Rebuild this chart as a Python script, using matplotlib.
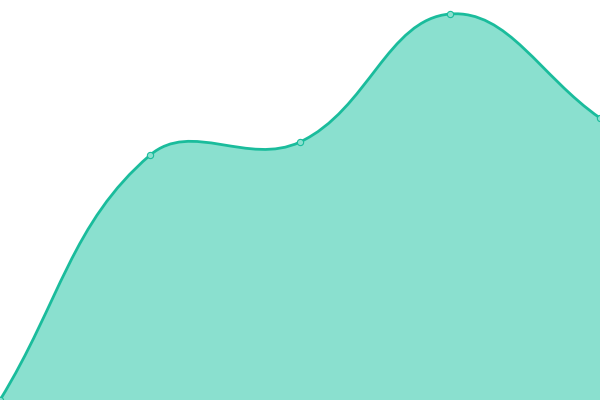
import matplotlib
matplotlib.use("Agg")
import matplotlib.pyplot as plt
import numpy as np
from matplotlib.path import Path
from matplotlib.patches import PathPatch

# data
labels = ["A", "B", "C", "D", "E"]
values = [0.0, 61.2, 64.5, 96.5, 70.5]

line_color = "#1abc9c"
fill_color = "#8ae0cf"
tension = 0.4


def spline_controls(pts, t):
    """Chart.js style control points for a smooth line"""
    n = len(pts)
    cps = []
    for i in range(n):
        prev = pts[max(i - 1, 0)]
        cur = pts[i]
        nxt = pts[min(i + 1, n - 1)]
        d01 = np.hypot(*(cur - prev))
        d12 = np.hypot(*(nxt - cur))
        tot = d01 + d12
        s01 = d01 / tot if tot else 0
        s12 = d12 / tot if tot else 0
        fa = t * s01
        fb = t * s12
        cps.append((cur - fa * (nxt - prev), cur + fb * (nxt - prev)))
    return cps


fig = plt.figure(figsize=(6, 4), dpi=100)
ax = fig.add_axes([0, 0, 1, 1])
ax.set_xlim(0, len(values) - 1)
ax.set_ylim(0, 100)
ax.axis("off")

x = np.arange(len(values))
# work in pixel space so the curve shape matches the screen
pix = ax.transData.transform(np.column_stack([x, values]))
cps = spline_controls(pix, tension)

verts = [pix[0]]
codes = [Path.MOVETO]
for i in range(len(pix) - 1):
    verts += [cps[i][1], cps[i + 1][0], pix[i + 1]]
    codes += [Path.CURVE4] * 3
inv = ax.transData.inverted()
verts_d = inv.transform(np.array(verts))

line_path = Path(verts_d, codes)
fill_verts = list(verts_d) + [(x[-1], 0), (x[0], 0), verts_d[0]]
fill_codes = codes + [Path.LINETO, Path.LINETO, Path.CLOSEPOLY]
ax.add_patch(PathPatch(Path(fill_verts, fill_codes), facecolor=fill_color,
                       edgecolor="none"))
ax.add_patch(PathPatch(line_path, facecolor="none", edgecolor=line_color,
                       linewidth=2.0))
ax.plot(x, values, "o", markersize=4.5, markerfacecolor="#8be0cf",
        markeredgecolor=line_color, markeredgewidth=0.8, clip_on=True)

fig.savefig("out.png", dpi=100)
